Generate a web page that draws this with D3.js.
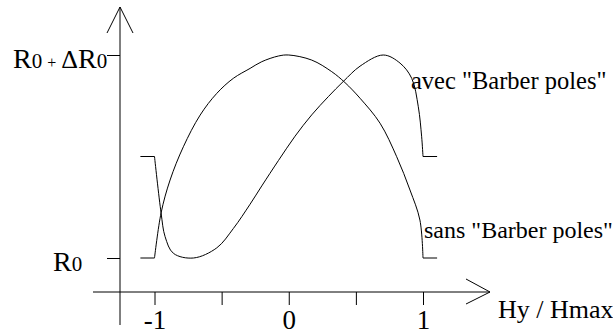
<!DOCTYPE html>
<html>
<head>
<meta charset="utf-8">
<script src="https://cdn.jsdelivr.net/npm/d3@7"></script>
<style>
  html, body { margin: 0; padding: 0; background: #fff; }
  svg { display: block; }
  text { font-family: "Liberation Serif", "Times New Roman", Times, serif; fill: #000; }
</style>
</head>
<body>
<svg id="chart" width="613" height="334"></svg>
<script>
// Normalised field h = Hy / Hmax and resistance r = (R - R0) / ΔR0
const sansH = [-1, -0.951, -0.884, -0.785, -0.66, -0.536, -0.413, -0.288, -0.201, -0.077, 0,
               0.171, 0.32, 0.419, 0.531, 0.68, 0.804, 0.903, 0.977, 1];
const sansR = [0, 0.222, 0.384, 0.548, 0.704, 0.811, 0.885, 0.934, 0.967, 0.995, 1,
               0.975, 0.918, 0.864, 0.787, 0.664, 0.499, 0.335, 0.187, 0];

const avecH = [-1, -0.951, -0.921, -0.859, -0.71, -0.536, -0.413, -0.288, -0.201, -0.077,
               0.047, 0.171, 0.295, 0.407, 0.531, 0.704, 0.829, 0.916, 0.965, 0.99, 1];
const avecR = [0.5, 0.222, 0.105, 0.023, 0, 0.05, 0.145, 0.265, 0.355, 0.48,
               0.6, 0.705, 0.795, 0.87, 0.945, 1, 0.96, 0.885, 0.745, 0.597, 0.5];

// Saturated plateaus beyond |h| = 1
const plateauH = [1, 1.105];

const xTicks = [-1, -0.5, 0, 0.5, 1];
const xTickLabels = ["-1", "", "0", "", "1"];
const yTicks = [0, 1];

const seriesLabels = ['avec "Barber poles"', 'sans "Barber poles"'];
const xAxisTitle = "Hy / Hmax";

const svg = d3.select("#chart");

const x = d3.scaleLinear().domain([-1, 1]).range([154.5, 423]);
const y = d3.scaleLinear().domain([0, 1]).range([258, 55]);

const xAxisY = 292, yAxisX = 120;

const ink = svg.append("g").attr("fill", "none").attr("stroke", "#000");

// Axis lines with open arrowheads
ink.append("line").attr("x1", 93).attr("x2", 490).attr("y1", xAxisY).attr("y2", xAxisY);
ink.append("polyline").attr("points", `466,279 490,${xAxisY} 466,304`);
ink.append("line").attr("x1", yAxisX).attr("x2", yAxisX).attr("y1", 7).attr("y2", 325);
ink.append("polyline").attr("points", `107,33 ${yAxisX},7 133,33`);

// Horizontal axis ticks
const xAxis = d3.axisBottom(x)
  .tickValues(xTicks)
  .tickSizeInner(13)
  .tickSizeOuter(0)
  .tickFormat((d, i) => xTickLabels[i]);
const gx = svg.append("g").attr("transform", `translate(0,${xAxisY})`).call(xAxis);
gx.select(".domain").remove();
gx.selectAll(".tick line").attr("stroke", "#000");
gx.selectAll(".tick text")
  .attr("y", 37)
  .attr("dy", null)
  .attr("font-family", "Liberation Serif, Times New Roman, serif")
  .attr("font-size", 27)
  .attr("fill", "#000");

// Vertical axis ticks
const yAxis = d3.axisLeft(y).tickValues(yTicks).tickSizeInner(13).tickSizeOuter(0).tickFormat("");
const gy = svg.append("g").attr("transform", `translate(${yAxisX},0)`).call(yAxis);
gy.select(".domain").remove();
gy.selectAll(".tick line").attr("stroke", "#000");

// Vertical axis labels: R0 and R0 + ΔR0
const lab0 = svg.append("text").attr("x", 53).attr("y", y(0) + 13);
lab0.append("tspan").attr("font-size", 28).text("R");
lab0.append("tspan").attr("font-size", 21).text("0");

const lab1 = svg.append("text").attr("x", 13).attr("y", y(1) + 13);
lab1.append("tspan").attr("font-size", 28).text("R");
lab1.append("tspan").attr("font-size", 21).text("0");
lab1.append("tspan").attr("font-size", 16).attr("dx", 5).text("+");
lab1.append("tspan").attr("font-size", 26).attr("dx", 5).text("Δ");
lab1.append("tspan").attr("font-size", 28).text("R");
lab1.append("tspan").attr("font-size", 21).text("0");

// Curves
const smooth = d3.line().x(d => x(d[0])).y(d => y(d[1])).curve(d3.curveCatmullRom.alpha(0.5));
const straight = d3.line().x(d => x(d[0])).y(d => y(d[1]));

function drawSeries(hs, rs) {
  const pts = hs.map((h, i) => [h, rs[i]]);
  ink.append("path").attr("d", smooth(pts));
  const left = [[-plateauH[1], rs[0]], [-plateauH[0], rs[0]]];
  const right = [[plateauH[0], rs[rs.length - 1]], [plateauH[1], rs[rs.length - 1]]];
  ink.append("path").attr("d", straight(left));
  ink.append("path").attr("d", straight(right));
}
drawSeries(sansH, sansR);
drawSeries(avecH, avecR);

// Series labels
svg.append("text").attr("x", 411).attr("y", 89).attr("font-size", 24.5).text(seriesLabels[0]);
svg.append("text").attr("x", 424).attr("y", 238).attr("font-size", 24).text(seriesLabels[1]);

// Horizontal axis title
svg.append("text").attr("x", 498).attr("y", 318).attr("font-size", 26).text(xAxisTitle);
</script>
</body>
</html>
